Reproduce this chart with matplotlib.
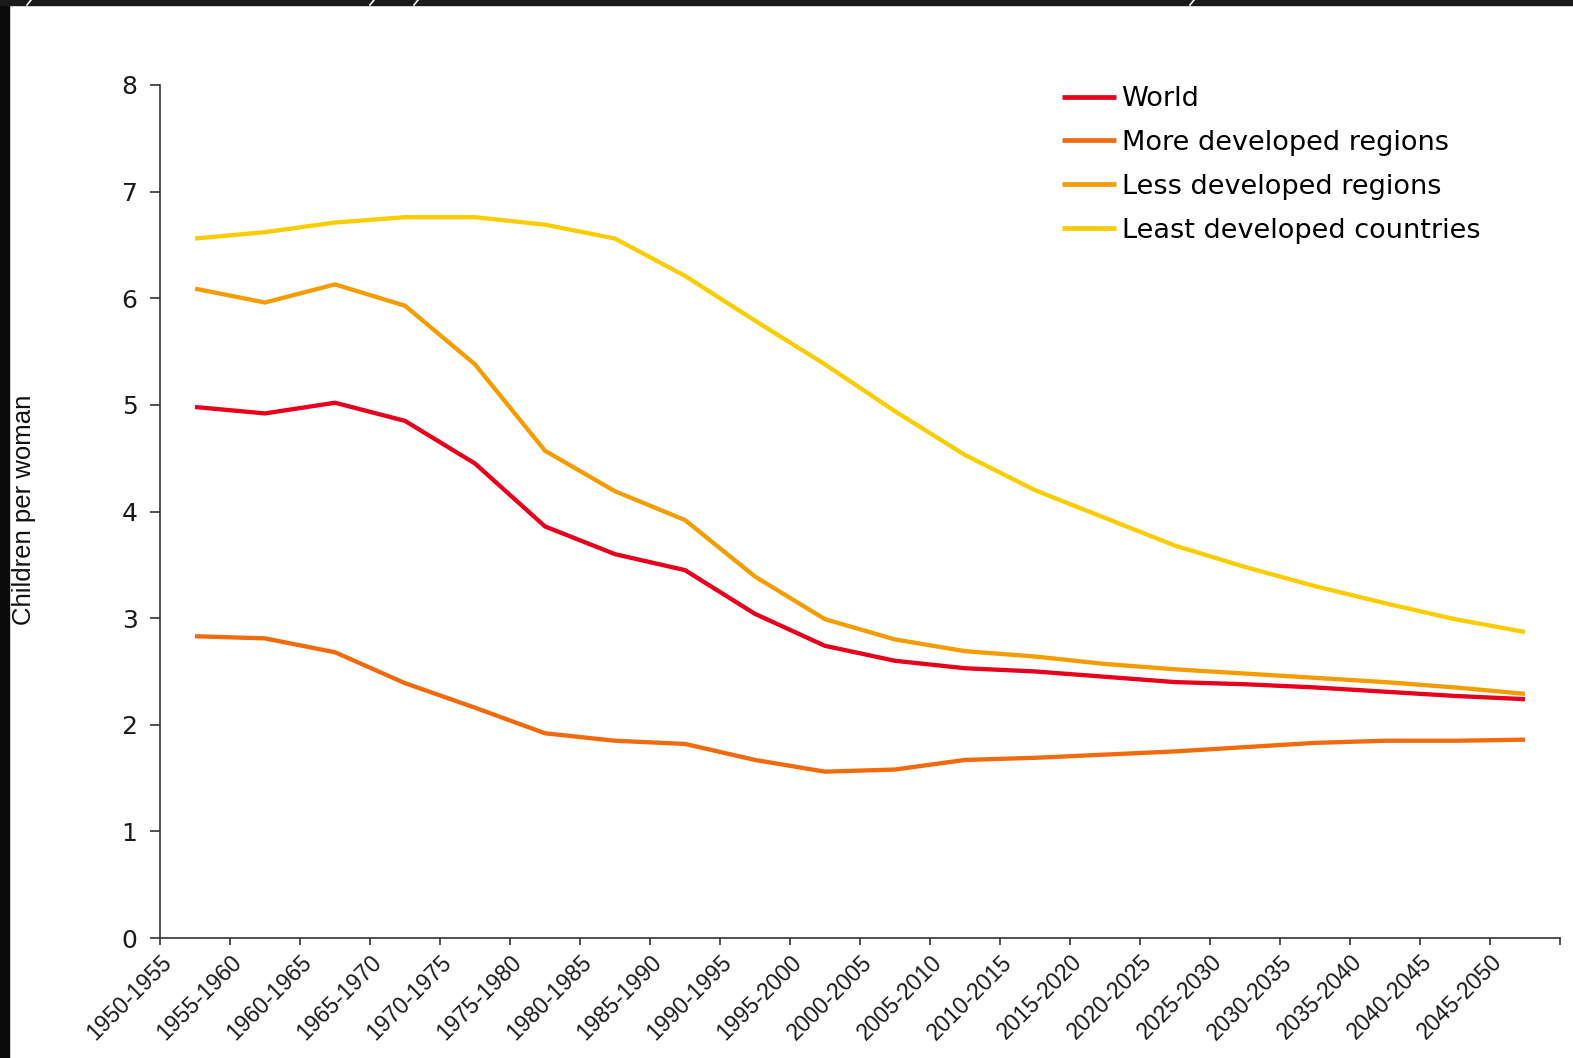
import matplotlib.pyplot as plt
from matplotlib.patches import Rectangle
from matplotlib.lines import Line2D
import matplotlib.transforms as mtransforms

periods = [
    "1950-1955", "1955-1960", "1960-1965", "1965-1970", "1970-1975",
    "1975-1980", "1980-1985", "1985-1990", "1990-1995", "1995-2000",
    "2000-2005", "2005-2010", "2010-2015", "2015-2020", "2020-2025",
    "2025-2030", "2030-2035", "2035-2040", "2040-2045", "2045-2050",
]
world = [4.98, 4.92, 5.02, 4.85, 4.45, 3.86, 3.60, 3.45, 3.04, 2.74,
         2.60, 2.53, 2.50, 2.45, 2.40, 2.38, 2.35, 2.31, 2.27, 2.24]
more_dev = [2.83, 2.81, 2.68, 2.39, 2.16, 1.92, 1.85, 1.82, 1.67, 1.56,
            1.58, 1.67, 1.69, 1.72, 1.75, 1.79, 1.83, 1.85, 1.85, 1.86]
less_dev = [6.09, 5.96, 6.13, 5.93, 5.38, 4.57, 4.19, 3.92, 3.39, 2.99,
            2.80, 2.69, 2.64, 2.57, 2.52, 2.48, 2.44, 2.40, 2.35, 2.29]
least_dev = [6.56, 6.62, 6.71, 6.76, 6.76, 6.69, 6.56, 6.21, 5.79, 5.38,
             4.94, 4.53, 4.20, 3.94, 3.68, 3.48, 3.30, 3.14, 2.99, 2.87]

series = [
    ("World", world, "#e8001c"),
    ("More developed regions", more_dev, "#f26a0c"),
    ("Less developed regions", less_dev, "#f59d00"),
    ("Least developed countries", least_dev, "#fbcd00"),
]

W, H = 1573, 1058
fig = plt.figure(figsize=(W / 100, H / 100), dpi=100)
fig.patch.set_facecolor("white")

# dark slide frame: left strip and top bar
fig.add_artist(Rectangle((0, 0), 9 / W, 1, transform=fig.transFigure, color="#0b0b0b", zorder=0))
fig.add_artist(Rectangle((0, 1 - 5 / H), 1, 5 / H, transform=fig.transFigure, color="#1a1a1a", zorder=0))
for xn in [27, 370, 414, 1190]:
    fig.add_artist(Line2D([xn / W, (xn + 4) / W], [1 - 5 / H, 1], transform=fig.transFigure,
                          color="white", linewidth=1.2, zorder=1))

ax = fig.add_axes([160 / W, 120 / H, 1400 / W, 853 / H])
xs = [i + 0.5 for i in range(len(periods))]
for name, vals, color in series:
    ax.plot(xs, vals, color=color, linewidth=3.1, label=name, solid_capstyle="butt")

ax.set_xlim(0, len(periods))
ax.set_ylim(0, 8)
ax.set_yticks(range(0, 9))
ax.set_xticks(range(0, len(periods) + 1))
ax.set_xticklabels(periods + [""], rotation=45, ha="right", rotation_mode="anchor",
                   family="Liberation Sans", fontsize=16.5, color="#1a1a1a")
offset = mtransforms.ScaledTranslation(10 / 100, 0, fig.dpi_scale_trans)
for lbl in ax.get_xticklabels():
    lbl.set_transform(lbl.get_transform() + offset)

ax.tick_params(axis="y", direction="out", length=7.2, width=1.2, pad=9,
               labelsize=18, labelcolor="#1a1a1a", color="#333333")
ax.tick_params(axis="x", direction="out", length=5, width=1.2, pad=4, color="#333333")
for lbl in ax.get_yticklabels():
    lbl.set_family("DejaVu Sans")

for side in ["top", "right"]:
    ax.spines[side].set_visible(False)
for side in ["left", "bottom"]:
    ax.spines[side].set_linewidth(1.2)
    ax.spines[side].set_color("#333333")

fig.text(24 / W, 1 - 510 / H, "Children per woman", rotation=90, ha="center", va="center",
         family="Liberation Sans", fontsize=18.5, color="#111111")

fig.legend(loc="upper left", bbox_to_anchor=(1062 / W, 1 - 86 / H), frameon=False,
           borderpad=0, borderaxespad=0, handlelength=2.0, handletextpad=0.2,
           labelspacing=0.66, prop={"family": "DejaVu Sans", "size": 19.5})
for line in fig.legends[0].get_lines():
    line.set_linewidth(3.4)

fig.savefig("out.png", dpi=100)
